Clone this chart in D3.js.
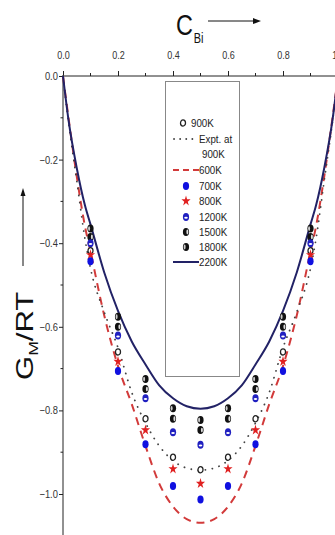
<!DOCTYPE html>
<html>
<head>
<meta charset="utf-8">
<script src="https://cdn.jsdelivr.net/npm/d3@7"></script>
<style>
  body { margin: 0; background: #fff; }
  svg text { font-family: "Liberation Sans", Arial, sans-serif; }
</style>
</head>
<body>
<div id="chart"></div>
<script>
// Tick labels
const xTicks = [0, 0.2, 0.4, 0.6, 0.8, 1.0];
const yTicks = [0, -0.2, -0.4, -0.6, -0.8, -1.0];

// Compositions of the calculated points
const pointX = [0.1, 0.2, 0.3, 0.4, 0.5, 0.6, 0.7, 0.8, 0.9];
const g700  = [-0.443, -0.706, -0.881, -0.981, -1.013, -0.981, -0.881, -0.706, -0.443];
const g800  = [-0.428, -0.683, -0.847, -0.940, -0.975, -0.940, -0.847, -0.683, -0.428];
const g900  = [-0.418, -0.660, -0.820, -0.912, -0.942, -0.912, -0.820, -0.660, -0.418];
const g1200 = [-0.400, -0.621, -0.771, -0.852, -0.882, -0.852, -0.771, -0.621, -0.400];
const g1500 = [-0.385, -0.600, -0.749, -0.820, -0.847, -0.820, -0.749, -0.600, -0.385];
const g1800 = [-0.365, -0.576, -0.725, -0.795, -0.823, -0.795, -0.725, -0.576, -0.365];

// Compositions of the curves
const lineX = [0, 0.02, 0.05, 0.08, 0.1, 0.15, 0.2, 0.25, 0.3, 0.35, 0.4, 0.45, 0.5,
               0.55, 0.6, 0.65, 0.7, 0.75, 0.8, 0.85, 0.9, 0.92, 0.95, 0.98, 1.0];
const g600  = [0, -0.10, -0.24, -0.36, -0.42, -0.573, -0.694, -0.785, -0.885, -0.975, -1.03, -1.06, -1.069,
               -1.06, -1.03, -0.975, -0.885, -0.785, -0.694, -0.573, -0.42, -0.36, -0.24, -0.10, 0];
const gExpt = [0, -0.11, -0.25, -0.39, -0.46, -0.565, -0.65, -0.757, -0.83, -0.885, -0.92, -0.938, -0.943,
               -0.938, -0.92, -0.885, -0.83, -0.757, -0.65, -0.565, -0.46, -0.39, -0.25, -0.11, 0];
const g2200 = [0, -0.105, -0.22, -0.31, -0.355, -0.47, -0.562, -0.635, -0.69, -0.74, -0.771, -0.79, -0.796,
               -0.79, -0.771, -0.74, -0.69, -0.635, -0.562, -0.47, -0.355, -0.31, -0.22, -0.105, 0];

const width = 335, height = 535;

const svg = d3.select("#chart")
  .append("svg")
  .attr("width", width)
  .attr("height", height);

const x = d3.scaleLinear().domain([0, 1]).range([63, 338]);
const y = d3.scaleLinear().domain([0, -1.1]).range([76, 76 + 1.1 * 418]);

// top x axis
const xAxis = d3.axisTop(x)
  .tickValues(xTicks)
  .tickFormat(d3.format(".1f"))
  .tickSize(5)
  .tickPadding(12);
const gx = svg.append("g").attr("transform", "translate(0,76)").call(xAxis);
gx.select(".domain").attr("d", "M63,0H340").attr("stroke", "#222");
gx.selectAll(".tick line").attr("stroke", "#222");
gx.selectAll(".tick text").attr("font-size", 11).attr("fill", "#333")
  .attr("transform", "scale(0.82,1)");
// minor x ticks
gx.selectAll(".minor")
  .data([0.1, 0.3, 0.5, 0.7, 0.9])
  .enter().append("line")
  .attr("x1", d => x(d)).attr("x2", d => x(d))
  .attr("y1", 0).attr("y2", -3)
  .attr("stroke", "#222");

// left y axis
const yAxis = d3.axisLeft(y)
  .tickValues(yTicks)
  .tickFormat(d3.format(".1f"))
  .tickSize(4)
  .tickPadding(2);
const gy = svg.append("g").attr("transform", "translate(63,0)").call(yAxis);
gy.select(".domain").attr("d", "M0,76V535").attr("stroke", "#222");
gy.selectAll(".tick line").attr("stroke", "#222");
gy.selectAll(".tick text").attr("font-size", 11).attr("fill", "#333")
  .attr("transform", "scale(0.85,1)");
gy.selectAll(".minor")
  .data([-0.1, -0.3, -0.5, -0.7, -0.9])
  .enter().append("line")
  .attr("y1", d => y(d)).attr("y2", d => y(d))
  .attr("x1", 0).attr("x2", -2.5)
  .attr("stroke", "#222");

// axis titles
const xt = svg.append("text")
  .attr("transform", "translate(176,35) scale(0.78,1)")
  .attr("fill", "#111");
xt.append("tspan").attr("font-size", 30).text("C");
xt.append("tspan").attr("font-size", 14).attr("dy", 8).attr("dx", 1).text("Bi");
svg.append("line").attr("x1", 208).attr("x2", 255).attr("y1", 21).attr("y2", 21)
  .attr("stroke", "#111").attr("stroke-width", 1);
svg.append("path").attr("d", "M261,21L253,18L253,24Z").attr("fill", "#111");

const yt = svg.append("text")
  .attr("transform", "translate(33,380) rotate(-90) scale(1.35,1)")
  .attr("fill", "#111");
yt.append("tspan").attr("font-size", 23).text("G");
yt.append("tspan").attr("font-size", 13).attr("dy", 5).text("M");
yt.append("tspan").attr("font-size", 23).attr("dy", -5).text("/RT");
svg.append("line").attr("x1", 23).attr("x2", 23).attr("y1", 266).attr("y2", 195)
  .attr("stroke", "#111").attr("stroke-width", 1);
svg.append("path").attr("d", "M23,188L20.5,196L25.5,196Z").attr("fill", "#111");

// curves
const line = d3.line().x(d => x(d[0])).y(d => y(d[1])).curve(d3.curveMonotoneX);
const plot = svg.append("g");

plot.append("path")
  .datum(lineX.map((v, i) => [v, g600[i]]))
  .attr("d", line)
  .attr("fill", "none")
  .attr("stroke", "#d23a3a")
  .attr("stroke-width", 2)
  .attr("stroke-dasharray", "8,6");

plot.append("path")
  .datum(lineX.map((v, i) => [v, gExpt[i]]))
  .attr("d", line)
  .attr("fill", "none")
  .attr("stroke", "#444")
  .attr("stroke-width", 1.8)
  .attr("stroke-linecap", "round")
  .attr("stroke-dasharray", "0.1,7");

plot.append("path")
  .datum(lineX.map((v, i) => [v, g2200[i]]))
  .attr("d", line)
  .attr("fill", "none")
  .attr("stroke", "#222266")
  .attr("stroke-width", 2);

// marker drawing helpers
function drawMarker(g, kind) {
  if (kind === "open") {
    g.append("ellipse").attr("rx", 2.5).attr("ry", 3.1)
      .attr("fill", "#fff").attr("stroke", "#222").attr("stroke-width", 1.3);
  } else if (kind === "blue") {
    g.append("ellipse").attr("rx", 3.1).attr("ry", 4)
      .attr("fill", "#1010e0");
  } else if (kind === "star") {
    g.append("path").attr("d", d3.symbol(d3.symbolStar, 26)())
      .attr("transform", "scale(1,1.15)")
      .attr("fill", "#e02020");
  } else if (kind === "half") {
    g.append("ellipse").attr("rx", 3.1).attr("ry", 4)
      .attr("fill", "#2020c0");
    g.append("ellipse").attr("rx", 1.8).attr("ry", 1).attr("cy", 0.8)
      .attr("fill", "#fff");
  } else if (kind === "black1") {
    g.append("ellipse").attr("rx", 3.1).attr("ry", 4).attr("fill", "#111");
    g.append("ellipse").attr("rx", 1).attr("ry", 2.4).attr("cx", 1.4).attr("fill", "#ddd");
  } else if (kind === "black2") {
    g.append("ellipse").attr("rx", 3.1).attr("ry", 4).attr("fill", "#111");
    g.append("ellipse").attr("rx", 1).attr("ry", 2.4).attr("cx", -1.4).attr("fill", "#ccc");
  }
}

const pointSeries = [
  { values: g1800, kind: "black2" },
  { values: g1500, kind: "black1" },
  { values: g1200, kind: "half" },
  { values: g900, kind: "open" },
  { values: g800, kind: "star" },
  { values: g700, kind: "blue" }
];

pointSeries.forEach(function (s) {
  plot.selectAll(null)
    .data(pointX.map((v, i) => [v, s.values[i]]))
    .enter()
    .append("g")
    .attr("transform", d => "translate(" + x(d[0]) + "," + y(d[1]) + ")")
    .each(function () { drawMarker(d3.select(this), s.kind); });
});

// legend
const legend = svg.append("g");
legend.append("rect")
  .attr("x", 165.5).attr("y", 81.5).attr("width", 74).attr("height", 295)
  .attr("fill", "#fff").attr("stroke", "#888").attr("stroke-width", 1);

const legendItems = [
  { label: "900K", y: 123, kind: "open", tx: 191, sx: 183 },
  { label: "Expt. at", y: 139, kind: "dotted", tx: 199 },
  { label: "900K", y: 154, kind: null, tx: 202 },
  { label: "600K", y: 170, kind: "dashed", tx: 199 },
  { label: "700K", y: 186, kind: "blue", tx: 199, sx: 186 },
  { label: "800K", y: 201, kind: "star", tx: 199, sx: 186 },
  { label: "1200K", y: 217, kind: "half", tx: 199, sx: 186 },
  { label: "1500K", y: 232, kind: "black1", tx: 199, sx: 186 },
  { label: "1800K", y: 247, kind: "black2", tx: 199, sx: 186 },
  { label: "2200K", y: 262, kind: "solid", tx: 199 }
];

legendItems.forEach(function (it) {
  if (it.kind === "dotted") {
    legend.append("line").attr("x1", 174).attr("x2", 195).attr("y1", it.y).attr("y2", it.y)
      .attr("stroke", "#444").attr("stroke-width", 1.8).attr("stroke-linecap", "round")
      .attr("stroke-dasharray", "0.1,6");
  } else if (it.kind === "dashed") {
    legend.append("line").attr("x1", 173).attr("x2", 199).attr("y1", it.y).attr("y2", it.y)
      .attr("stroke", "#d23a3a").attr("stroke-width", 2).attr("stroke-dasharray", "6,4");
  } else if (it.kind === "solid") {
    legend.append("line").attr("x1", 173).attr("x2", 199).attr("y1", it.y).attr("y2", it.y)
      .attr("stroke", "#222266").attr("stroke-width", 2);
  } else if (it.kind) {
    const g = legend.append("g").attr("transform", "translate(" + it.sx + "," + it.y + ")");
    drawMarker(g, it.kind);
  }
  legend.append("text")
    .attr("transform", "translate(" + it.tx + "," + it.y + ") scale(0.85,1)")
    .attr("dy", "0.35em")
    .attr("font-size", 11.5)
    .attr("fill", "#222")
    .text(it.label);
});
</script>
</body>
</html>
